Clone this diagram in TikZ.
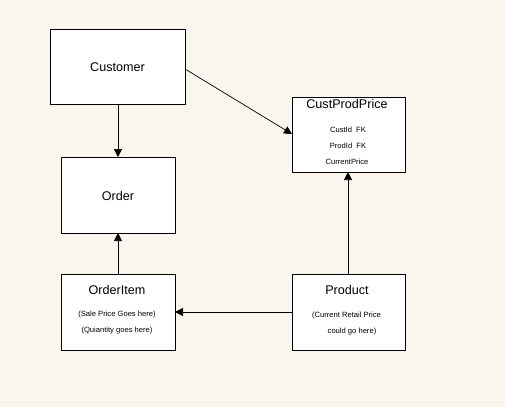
\documentclass[tikz,border=0pt]{standalone}
\usepackage{fontspec}
\setmainfont{Liberation Sans}
\usetikzlibrary{arrows.meta}
\definecolor{bg}{HTML}{FAF6EE}
\begin{document}
\begin{tikzpicture}[x=1pt,y=-1pt,
  box/.style={draw=black,fill=white,line width=0.8pt},
  title/.style={font=\fontsize{12.6}{14}\selectfont,inner sep=0pt},
  small/.style={font=\fontsize{7.6}{9}\selectfont,inner sep=0pt},
  conn/.style={line width=0.7pt,-{Triangle[length=8pt,width=8pt]}}]
\fill[bg] (0,0) rectangle (505,407);
\useasboundingbox (0,0) rectangle (505,407);
% boxes
\draw[box] (50,29) rectangle (185,104);
\coordinate (custB) at (118,104);
\coordinate (custR) at (185,69);
\node[title] (customer) at (117.5,67) {Customer};
\draw[box] (61,157) rectangle (175,233);
\coordinate (ordT) at (118,157);
\coordinate (ordB) at (118,233);
\node[title] (order) at (118,196) {Order};
\draw[box] (61,274) rectangle (175,350);
\coordinate (oiT) at (118,274);
\coordinate (oiR) at (175,312);
\node[title] (orderitem) at (117,290) {OrderItem};
\node[small] (oi1) at (117,314.5) {(Sale Price Goes here)};
\node[small] (oi2) at (117,330.5) {(Quiantity goes here)};
\draw[box] (292,97) rectangle (405,172);
\coordinate (cppL) at (292,134);
\coordinate (cppB) at (348,172);
\node[title] (cpp) at (347,103.5) {CustProdPrice};
\node[small] (c1) at (348,130) {CustId\ \ FK};
\node[small] (c2) at (348,146) {ProdId\ \ FK};
\node[small] (c3) at (347,162) {CurrentPrice};
\draw[box] (292,274) rectangle (405,350);
\coordinate (prT) at (348,274);
\coordinate (prL) at (292,312);
\node[title] (product) at (347,289.5) {Product};
\node[small] (p1) at (346.5,315.5) {(Current Retail Price};
\node[small] (p2) at (352,331.5) {could go here)};
% connectors
\draw[conn] (custB) -- (ordT);
\draw[conn] (oiT) -- (ordB);
\draw[conn] (custR) -- (cppL);
\draw[conn] (prT) -- (cppB);
\draw[conn] (prL) -- (oiR);
\end{tikzpicture}
\end{document}
